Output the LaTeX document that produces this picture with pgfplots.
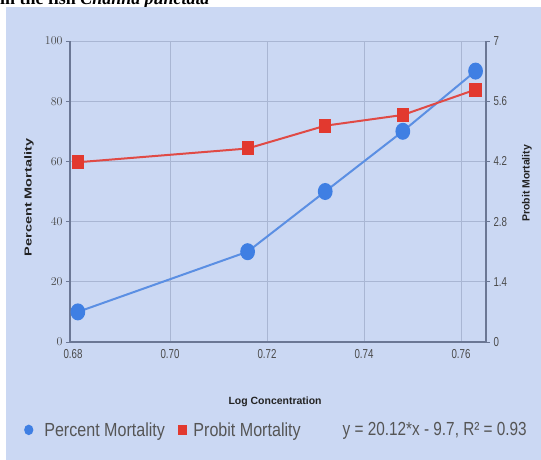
\documentclass[border=0pt]{standalone}
\usepackage{pgfplots}
\usepackage{pgfplotstable}
\pgfplotsset{compat=1.18}
\usepackage{fontspec}
\setmainfont{Liberation Sans}
\newfontfamily\captionserif{Liberation Serif}
\newfontfamily\legfont{Liberation Sans}[FakeStretch=0.85]
\newfontfamily\formfont{Liberation Sans}[FakeStretch=0.81]
\newfontfamily\tickfont{Liberation Sans}[FakeStretch=0.75]

\definecolor{panel}{HTML}{CBD8F3}
\definecolor{gridc}{HTML}{A9B6D3}
\definecolor{axisc}{HTML}{6B7794}
\definecolor{pblue}{HTML}{3F7FE3}
\definecolor{pbluel}{HTML}{5B8FE3}
\definecolor{pred}{HTML}{E2392F}
\definecolor{predl}{HTML}{E04A45}
\definecolor{txt}{HTML}{4A4A4A}
\definecolor{legtxt}{HTML}{555555}
\definecolor{ttl}{HTML}{222222}

% log concentration, percent mortality, probit mortality
\pgfplotstableread{
logc   pct  probit
0.681  10   4.18
0.716  30   4.50
0.732  50   5.03
0.748  70   5.28
0.763  90   5.87
}\mortality

\begin{document}
\begin{tikzpicture}
\path[use as bounding box] (0,0) rectangle (541bp,460bp);
\node[anchor=base west, inner sep=0, text=black,
      font=\captionserif\bfseries\fontsize{18}{22}\selectfont]
  at (0bp,455bp) {in the fish \textit{Channa punctata}};
\fill[panel] (6bp,0) rectangle (541bp,453bp);

\pgfplotsset{
  commonaxis/.style={
    at={(70bp,118bp)}, anchor=south west,
    scale only axis, width=416bp, height=301bp,
    xmin=0.67938, xmax=0.76515,
    tick align=outside, major tick length=4bp,
    axis line style={axisc, line width=1.3bp},
    ticklabel style={font=\tickfont\fontsize{13}{15}\selectfont, text=txt},
    y tick style={axisc, line width=0.8bp},
    x tick style={draw=none},
  }
}

\begin{axis}[commonaxis,
  ymin=0, ymax=100,
  xtick={0.70,0.72,0.74,0.76},
  xticklabels={0.70,0.72,0.74,0.76},
  extra x ticks={0.68}, extra x tick labels={0.68},
  extra x tick style={grid=none},
  ytick={0,20,40,60,80,100},
  axis x line*=bottom, axis y line*=left,
  grid=major, major grid style={gridc, line width=0.8bp},
  xlabel={Log Concentration},
  xlabel style={at={(axis description cs:0.493,-0.199)}, anchor=center,
    font=\bfseries\fontsize{10.5}{12}\selectfont, text=ttl},
  ylabel={\scalebox{1}[0.7]{Percent Mortality}},
  ylabel style={at={(axis description cs:-0.0986,0.48)}, anchor=center,
    font=\bfseries\fontsize{14.5}{16}\selectfont, text=ttl},
  legend image code/.code={\draw[#1, mark size=4.2bp] plot coordinates {(0bp,0bp)};},
  legend style={at={(axis description cs:-0.1082,-0.292)}, anchor=west,
    draw=none, fill=none, inner sep=0pt,
    font=\legfont\fontsize{19}{22}\selectfont, text=legtxt,
    legend columns=3,
    /tikz/every odd column/.append style={column sep=5bp},
    /tikz/every even column/.append style={column sep=11bp}},
]
\addplot[pbluel, line width=2bp, mark=*, mark size=7.5bp,
  mark options={fill=pblue, draw=pblue, xscale=0.85}]
  table[x=logc, y=pct] {\mortality};
\addlegendentry{\hspace{5bp}Percent Mortality}
\addlegendimage{only marks, mark=square*, pred}
\addlegendentry{Probit Mortality}
\addlegendimage{empty legend}
\addlegendentry{\hspace{22bp}\formfont y = 20.12*x - 9.7, R² = 0.93}
\end{axis}

\begin{axis}[commonaxis,
  ymin=0, ymax=7,
  ytick={0,1.4,2.8,4.2,5.6,7},
  yticklabels={0,1.4,2.8,4.2,5.6,7},
  axis x line=none, axis y line*=right,
  ylabel={Probit Mortality},
  ylabel style={at={(axis description cs:1.0986,0.527)}, anchor=center, rotate=0,
    font=\bfseries\fontsize{10.5}{12}\selectfont, text=ttl},
]
\addplot[predl, line width=2bp, mark=square*, mark size=6bp,
  mark options={fill=pred, draw=pred, xscale=0.85}]
  table[x=logc, y=probit] {\mortality};
\end{axis}
\end{tikzpicture}
\end{document}
